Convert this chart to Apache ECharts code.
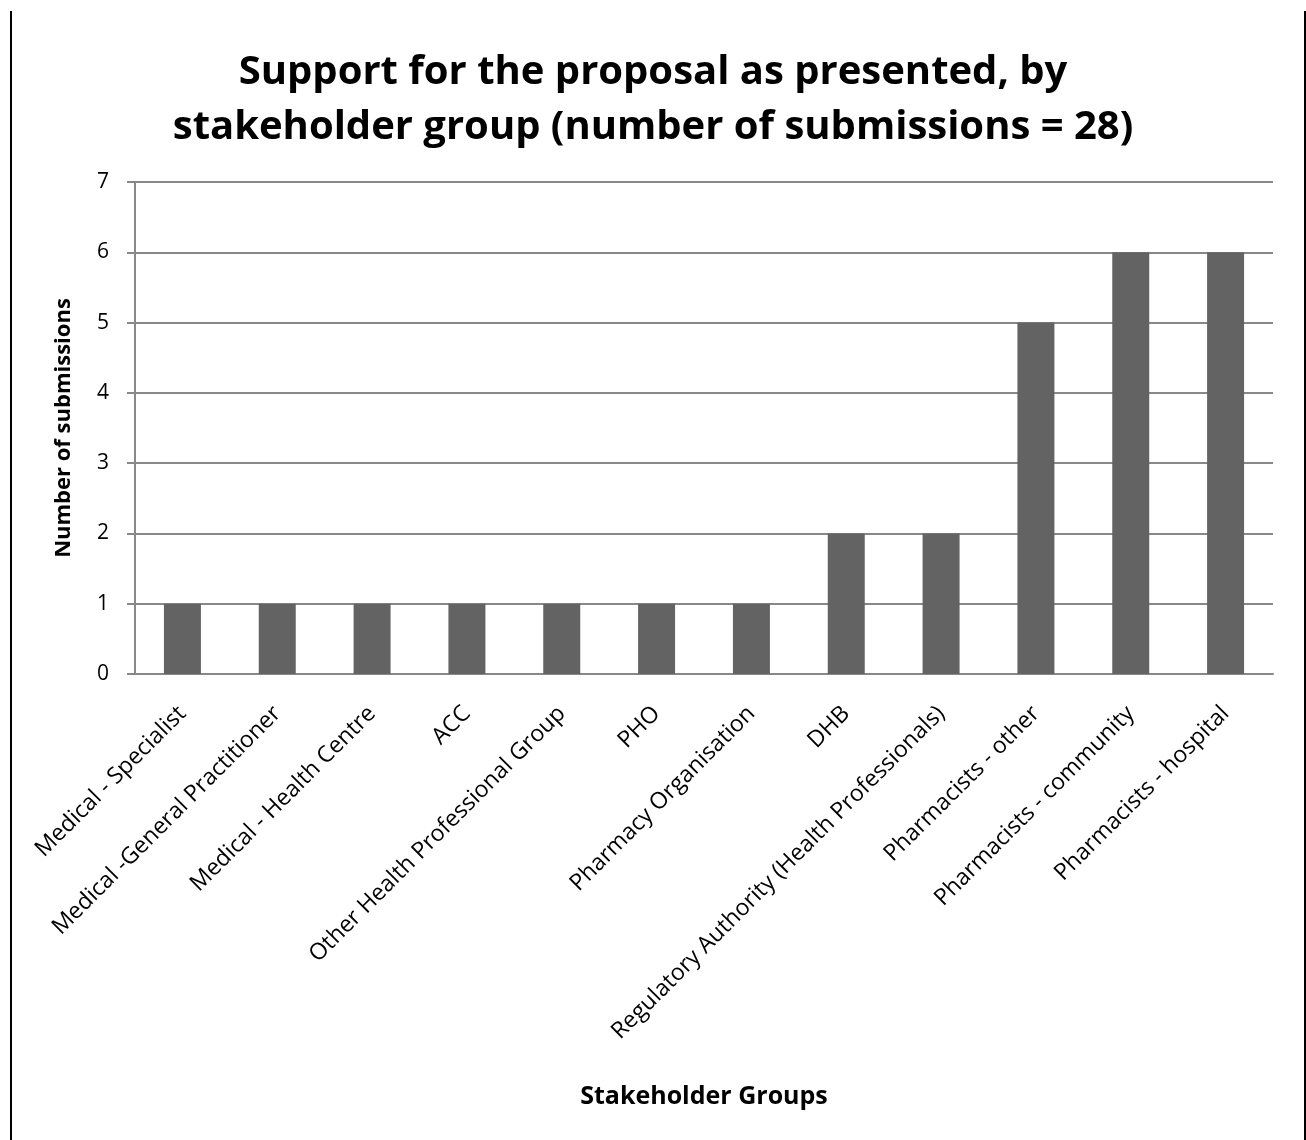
<!DOCTYPE html>
<html>
<head>
<meta charset="utf-8">
<script src="https://cdn.jsdelivr.net/npm/echarts@6/dist/echarts.min.js"></script>
<style>
  html, body { margin: 0; padding: 0; background: #fff; }
  #frame {
    position: absolute; left: 10px; top: 11px; width: 1292px; height: 1140px;
    border-left: 2px solid #000; border-right: 2px solid #000;
  }
  #chart { position: absolute; left: 0; top: 0; width: 1306px; height: 1140px; }
</style>
</head>
<body>
<div id="frame"></div>
<div id="chart"></div>
<script>
// stakeholder groups and their submission counts
const groups = [
  'Medical - Specialist',
  'Medical -General Practitioner',
  'Medical - Health Centre',
  'ACC',
  'Other Health Professional Group',
  'PHO',
  'Pharmacy Organisation',
  'DHB',
  'Regulatory Authority (Health Professionals)',
  'Pharmacists - other',
  'Pharmacists - community',
  'Pharmacists - hospital'
]
const submissions = [1, 1, 1, 1, 1, 1, 1, 2, 2, 5, 6, 6]
const yTicks = [0, 1, 2, 3, 4, 5, 6, 7]

const font = 'Open Sans'
const chart = echarts.init(document.getElementById('chart'))

chart.setOption({
  animation: false,
  title: {
    text: 'Support for the proposal as presented, by\nstakeholder group (number of submissions = 28)',
    left: 'center',
    top: 40,
    textStyle: {
      fontFamily: font,
      fontWeight: 'bold',
      fontSize: 40,
      lineHeight: 55,
      color: '#000'
    }
  },
  grid: {
    left: 135,
    right: 33,
    top: 182,
    height: 492
  },
  xAxis: {
    type: 'category',
    data: groups,
    name: 'Stakeholder Groups',
    nameLocation: 'middle',
    nameGap: 410,
    nameTextStyle: { fontFamily: font, fontWeight: 'bold', fontSize: 25, color: '#000' },
    axisLine: { lineStyle: { color: '#888', width: 2 } },
    axisTick: { show: false },
    axisLabel: {
      rotate: 45,
      interval: 0,
      margin: 36,
      fontFamily: font,
      fontSize: 23,
      color: '#000'
    }
  },
  yAxis: {
    type: 'value',
    min: yTicks[0],
    max: yTicks[yTicks.length - 1],
    interval: 1,
    name: 'Number of submissions',
    nameLocation: 'middle',
    nameGap: 60,
    nameTextStyle: { fontFamily: font, fontWeight: 'bold', fontSize: 22, color: '#000' },
    axisLine: { show: true, lineStyle: { color: '#888', width: 2 } },
    axisTick: { show: true, length: 8, lineStyle: { color: '#888', width: 2 } },
    axisLabel: { margin: 26, fontFamily: font, fontSize: 21, color: '#000' },
    splitLine: { lineStyle: { color: '#888', width: 2 } }
  },
  series: [
    {
      type: 'bar',
      data: submissions,
      barWidth: '39%',
      itemStyle: { color: '#636363' }
    }
  ]
})
</script>
</body>
</html>
